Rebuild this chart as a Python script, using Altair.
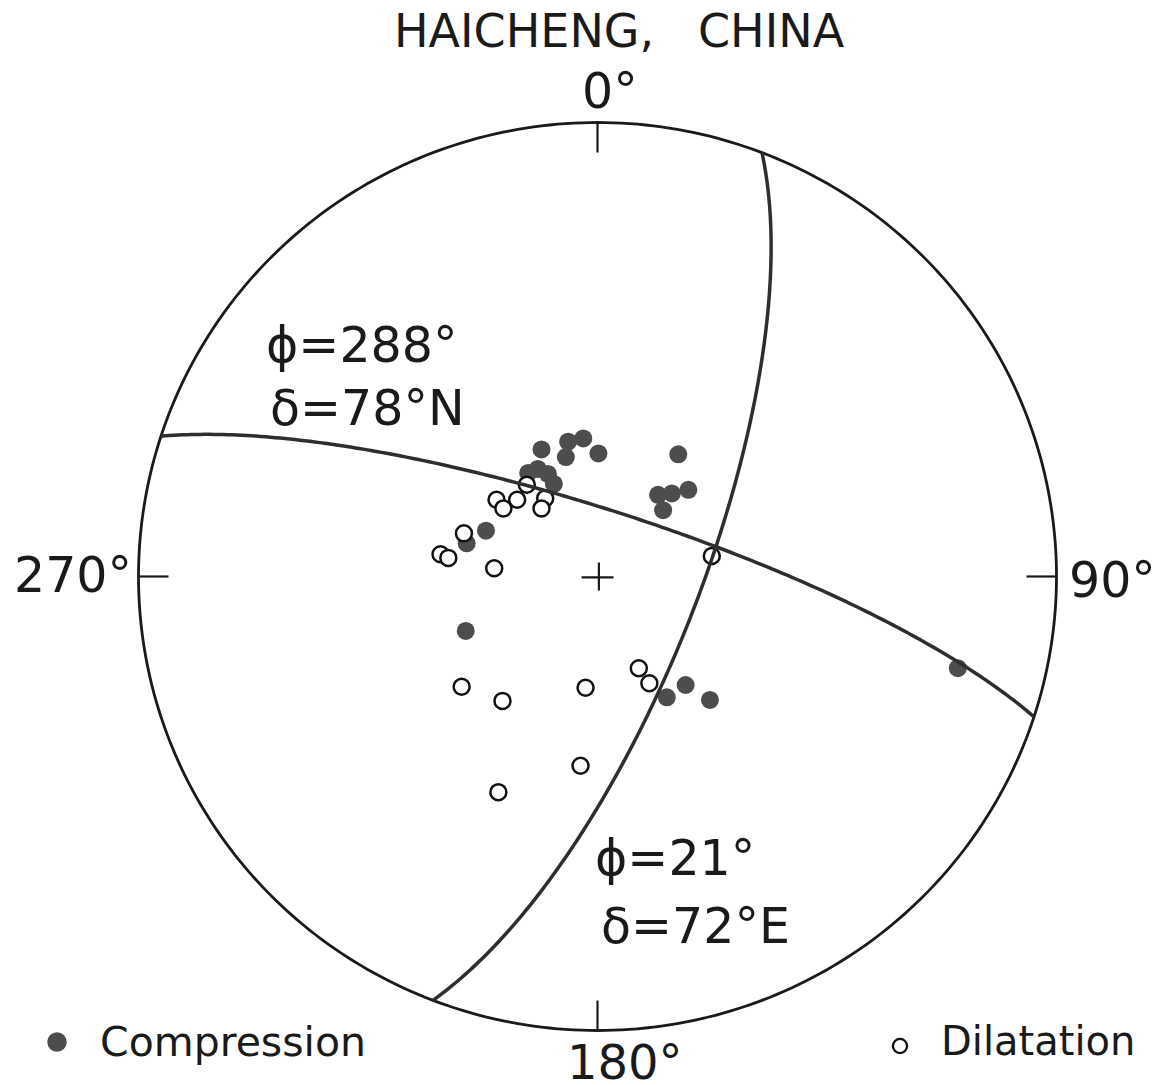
import altair as alt
import numpy as np
import pandas as pd

# ---------------- data (normalised stereonet coords, primitive radius = 1) ----------------
comp_x = [-0.122, -0.064, -0.031, -0.069, 0.002, 0.176, -0.151, -0.130, -0.108, -0.095,
          0.132, 0.162, 0.198, 0.143, -0.243, -0.285, -0.287, 0.192, 0.151, 0.245, 0.785]
comp_y = [0.280, 0.297, 0.304, 0.263, 0.271, 0.269, 0.228, 0.237, 0.226, 0.204,
          0.180, 0.183, 0.191, 0.146, 0.101, 0.073, -0.120, -0.239, -0.266, -0.272, -0.202]

dil_x = [-0.154, -0.175, -0.220, -0.205, -0.114, -0.122, -0.291, -0.342, -0.325, -0.225,
         0.249, -0.296, -0.207, -0.026, 0.090, 0.113, -0.037, -0.216]
dil_y = [0.202, 0.169, 0.169, 0.150, 0.172, 0.150, 0.095, 0.049, 0.041, 0.018,
         0.045, -0.243, -0.274, -0.245, -0.202, -0.235, -0.417, -0.475]

plane_names = ["plane1", "plane2"]
plane_strikes = [288, 21]
plane_dips = [78, 72]

tick_angles = [0, 90, 180, 270]
tick_labels = ["0°", "90°", "180°", "270°"]

title_text = "HAICHENG,\u00a0\u00a0\u00a0CHINA"
plane_label_lines = [["ϕ=288°", "δ=78°N"], ["ϕ=21°", "δ=72°E"]]
legend_labels = ["Compression", "Dilatation"]

# ---------------- layout ----------------
W, H = 1153, 1073
CX, CY = 589.5, 568.5     # centre of primitive in chart px
RX, RY = 459.0, 454.0     # primitive radius in px
FONT = "DejaVu Sans"
INK = "#1a1a1a"
FILL = "#4d4d4d"

xs = alt.Scale(domain=[-CX / RX, (W - CX) / RX], range=[0, W], nice=False, zero=False)
ys = alt.Scale(domain=[-(H - CY) / RY, CY / RY], range=[H, 0], nice=False, zero=False)

# primitive circle
a = np.radians(np.arange(0, 361, 1))
prim = pd.DataFrame({"x": np.sin(a), "y": np.cos(a), "i": np.arange(len(a))})


def great_circle(strike, dip):
    s = np.radians(strike)
    dd = np.radians(strike + 90)
    d = np.radians(dip)
    t = np.radians(np.arange(0, 180.5, 1))
    sv = np.array([np.cos(s), np.sin(s), 0.0])
    dv = np.array([np.cos(dd) * np.cos(d), np.sin(dd) * np.cos(d), np.sin(d)])
    v = np.outer(np.cos(t), sv) + np.outer(np.sin(t), dv)
    plunge = np.arcsin(np.clip(v[:, 2], -1, 1))
    trend = np.arctan2(v[:, 1], v[:, 0])
    r = np.sqrt(2) * np.sin((np.pi / 2 - plunge) / 2)
    return r * np.sin(trend), r * np.cos(trend)


gc_frames = []
for name, st, dp in zip(plane_names, plane_strikes, plane_dips):
    gx, gy = great_circle(st, dp)
    gc_frames.append(pd.DataFrame({"x": gx, "y": gy, "i": np.arange(len(gx)), "plane": name}))
gc = pd.concat(gc_frames, ignore_index=True)

ta = np.radians(tick_angles)
TL = 30.0
ticks = pd.DataFrame({
    "x": np.sin(ta), "y": np.cos(ta),
    "x2": np.sin(ta) * (1 - TL / RX), "y2": np.cos(ta) * (1 - TL / RY),
})

cross = pd.DataFrame({
    "x": [-16 / RX, 0.003], "x2": [16 / RX, 0.003],
    "y": [-0.002, -14 / RY], "y2": [-0.002, 14 / RY],
})

comp = pd.DataFrame({"x": comp_x, "y": comp_y})
dil = pd.DataFrame({"x": dil_x, "y": dil_y})

X = lambda: alt.X("x:Q", scale=xs, axis=None)
Y = lambda: alt.Y("y:Q", scale=ys, axis=None)

prim_layer = alt.Chart(prim).mark_line(color=INK, strokeWidth=2.8).encode(
    x=X(), y=Y(), order="i:Q")

gc_layer = alt.Chart(gc).mark_line(color="#2e2e2e", strokeWidth=3.5).encode(
    x=X(), y=Y(), order="i:Q", detail="plane:N")

tick_layer = alt.Chart(ticks).mark_rule(color=INK, strokeWidth=2.2).encode(
    x=X(), y=Y(), x2="x2:Q", y2="y2:Q")

cross_layer = alt.Chart(cross).mark_rule(color=INK, strokeWidth=2.2).encode(
    x=X(), y=Y(), x2="x2:Q", y2="y2:Q")

comp_layer = alt.Chart(comp).mark_point(
    shape="circle", filled=True, size=324, color=FILL, opacity=1).encode(x=X(), y=Y())

dil_layer = alt.Chart(dil).mark_point(
    shape="circle", filled=True, size=256, fill="white", stroke="#111111",
    strokeWidth=2.5, opacity=1).encode(x=X(), y=Y())


def txt(s, x, y, size, align="left"):
    return alt.Chart(pd.DataFrame({"t": [s]})).mark_text(
        font=FONT, fontSize=size, color="#1a1a1a", align=align, baseline="alphabetic"
    ).encode(text="t:N", x=alt.value(x), y=alt.value(y))


texts = [
    txt(title_text, 386, 39, 46),
    txt(tick_labels[0], 574, 100, 49),
    txt(tick_labels[1], 1061, 589, 49),
    txt(tick_labels[2], 559, 1071, 48),
    txt(tick_labels[3], 124, 584, 49, align="right"),
    txt(plane_label_lines[0][0], 258, 354, 49),
    txt(plane_label_lines[0][1], 262, 417, 49),
    txt(plane_label_lines[1][0], 587, 867, 49),
    txt(plane_label_lines[1][1], 593, 935, 49),
    txt(legend_labels[0], 92, 1048, 41),
    txt(legend_labels[1], 933, 1047, 40),
]

leg_fill = alt.Chart(pd.DataFrame({"k": [0]})).mark_point(
    shape="circle", filled=True, size=380, color=FILL, opacity=1
).encode(x=alt.value(49), y=alt.value(1034))
leg_open = alt.Chart(pd.DataFrame({"k": [0]})).mark_point(
    shape="circle", filled=True, size=200, fill="white", stroke="#111111",
    strokeWidth=2.3, opacity=1
).encode(x=alt.value(892), y=alt.value(1038))

chart = alt.layer(
    prim_layer, tick_layer, cross_layer, comp_layer, dil_layer, gc_layer,
    *texts, leg_fill, leg_open
).properties(
    width=W, height=H, padding=0,
    autosize=alt.AutoSizeParams(type="none"),
).configure_view(stroke=None)

chart.save("out.html", embed_options={"renderer": "svg", "actions": False})
